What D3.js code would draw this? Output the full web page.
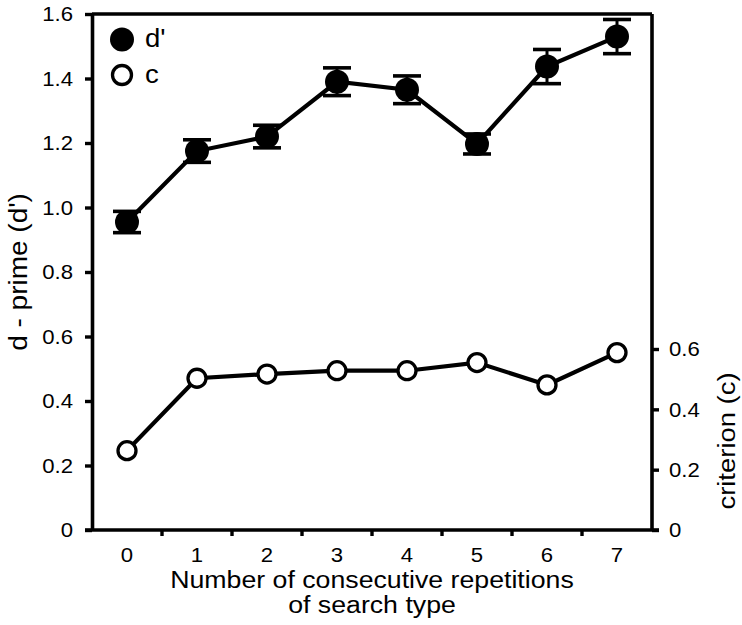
<!DOCTYPE html>
<html>
<head>
<meta charset="utf-8">
<script src="https://cdn.jsdelivr.net/npm/d3@7"></script>
<style>
  html, body { margin: 0; padding: 0; background: #fff; }
  svg text { font-family: "Liberation Sans", Arial, Helvetica, sans-serif; fill: #000; }
</style>
</head>
<body>
<svg id="chart" width="742" height="625"></svg>
<script>
// ---- data ----
const categories = ["0", "1", "2", "3", "4", "5", "6", "7"];
const dPrime = [0.955, 1.175, 1.22, 1.39, 1.365, 1.197, 1.437, 1.53];
const dPrimeErr = [0.033, 0.035, 0.035, 0.043, 0.043, 0.031, 0.053, 0.053];
const criterion = [0.263, 0.503, 0.517, 0.528, 0.528, 0.555, 0.481, 0.588];
const leftTicks = [0, 0.2, 0.4, 0.6, 0.8, 1.0, 1.2, 1.4, 1.6];
const rightTicks = [0, 0.2, 0.4, 0.6];
const xTitle = ["Number of consecutive repetitions", "of search type"];
const leftTitle = "d - prime (d')";
const rightTitle = "criterion (c)";
const legendItems = [{label: "d'", filled: true}, {label: "c", filled: false}];

// ---- layout ----
const L = 92, R = 652, T = 14, B = 530;
const svg = d3.select("#chart");

const x = d3.scaleBand().domain(categories).range([L, R]).padding(0);
const yL = d3.scaleLinear().domain([0, 1.6]).range([B, T]);
const yR = d3.scaleLinear().domain([0, 0.6]).range([B, 349]);

function stext(g, txt, px, py, size, anchor, rot, sx) {
  const t = g.append("text")
    .attr("transform", `translate(${px},${py})` + (rot ? ` rotate(${rot})` : "") + ` scale(${sx || 1.1},1)`)
    .attr("font-size", size)
    .attr("text-anchor", anchor)
    .text(txt);
  return t;
}

const axisW = 3.6;
const TF = 20.5, TB = 7.4;
// frame: top line
svg.append("line").attr("x1", L).attr("x2", R).attr("y1", T).attr("y2", T)
  .attr("stroke", "#000").attr("stroke-width", 3.4);

// left axis
const gL = svg.append("g").attr("transform", `translate(${L},0)`)
  .call(d3.axisLeft(yL).tickValues(leftTicks).tickSize(7).tickSizeOuter(0).tickFormat(""));
gL.select(".domain").attr("stroke-width", axisW);
gL.selectAll(".tick line").attr("stroke-width", 3.4);
leftTicks.forEach(v => {
  stext(svg, v === 0 ? "0" : d3.format(".1f")(v), 73, yL(v) + TB, TF, "end", 0, 1.08);
});

// right axis
const gR = svg.append("g").attr("transform", `translate(${R},0)`)
  .call(d3.axisRight(yR).tickValues(rightTicks).tickSize(7).tickSizeOuter(0).tickFormat(""));
gR.select(".domain").attr("d", `M0,${B}V${T}`).attr("stroke-width", axisW);
gR.selectAll(".tick line").attr("stroke-width", 3.4);
rightTicks.forEach(v => {
  stext(svg, v === 0 ? "0" : d3.format(".1f")(v), 669, yR(v) + TB, TF, "start", 0, 1.08);
});

// bottom axis
const boundaries = categories.slice(1);
const gB = svg.append("g").attr("transform", `translate(0,${B})`)
  .call(d3.axisBottom(x).tickValues(boundaries).tickSize(6).tickSizeOuter(0).tickFormat(""));
gB.selectAll(".tick").attr("transform", d => `translate(${x(d)},0)`);
gB.select(".domain").attr("d", `M${L - 7},0H${R + 7}`).attr("stroke-width", axisW);
gB.selectAll(".tick line").attr("stroke-width", 3.4);
categories.forEach(c => {
  stext(svg, c, x(c) + x.bandwidth() / 2, 562, TF, "middle", 0, 1.08);
});

// axis titles
stext(svg, xTitle[0], (L + R) / 2, 588, 24.5, "middle", 0, 1.09);
stext(svg, xTitle[1], (L + R) / 2, 613, 24.5, "middle", 0, 1.09);
stext(svg, leftTitle, 27, 272, 25, "middle", -90, 1.12);
stext(svg, rightTitle, 735, 441, 24.5, "middle", -90, 1.12);

const cx = i => x(categories[i]) + x.bandwidth() / 2;

// criterion line + open markers
const lineC = d3.line().x((d, i) => cx(i)).y(d => yR(d));
svg.append("path").datum(criterion).attr("d", lineC)
  .attr("fill", "none").attr("stroke", "#000").attr("stroke-width", 4.2);
svg.selectAll(".cmark").data(criterion).enter().append("circle")
  .attr("cx", (d, i) => cx(i)).attr("cy", d => yR(d)).attr("r", 9)
  .attr("fill", "#fff").attr("stroke", "#000").attr("stroke-width", 3.3);

// d' line
const lineD = d3.line().x((d, i) => cx(i)).y(d => yL(d));
svg.append("path").datum(dPrime).attr("d", lineD)
  .attr("fill", "none").attr("stroke", "#000").attr("stroke-width", 4.2);
// error bars
const eb = svg.selectAll(".eb").data(dPrime).enter().append("g");
eb.append("line").attr("x1", (d, i) => cx(i)).attr("x2", (d, i) => cx(i))
  .attr("y1", (d, i) => yL(d + dPrimeErr[i])).attr("y2", (d, i) => yL(d - dPrimeErr[i]))
  .attr("stroke", "#000").attr("stroke-width", 3);
[1, -1].forEach(s => {
  eb.append("line").attr("x1", (d, i) => cx(i) - 14).attr("x2", (d, i) => cx(i) + 14)
    .attr("y1", (d, i) => yL(d + s * dPrimeErr[i])).attr("y2", (d, i) => yL(d + s * dPrimeErr[i]))
    .attr("stroke", "#000").attr("stroke-width", 3.6);
});
svg.selectAll(".dmark").data(dPrime).enter().append("circle")
  .attr("cx", (d, i) => cx(i)).attr("cy", d => yL(d)).attr("r", 12)
  .attr("fill", "#000");

// legend
legendItems.forEach((it, i) => {
  const ly = 39.5 + i * 35.5;
  svg.append("circle").attr("cx", 122).attr("cy", ly).attr("r", it.filled ? 12 : 9.5)
    .attr("fill", it.filled ? "#000" : "#fff")
    .attr("stroke", "#000").attr("stroke-width", it.filled ? 0 : 3.3);
  stext(svg, it.label, 145, ly + 7.5, 25, "start", 0, 1.1);
});
</script>
</body>
</html>
